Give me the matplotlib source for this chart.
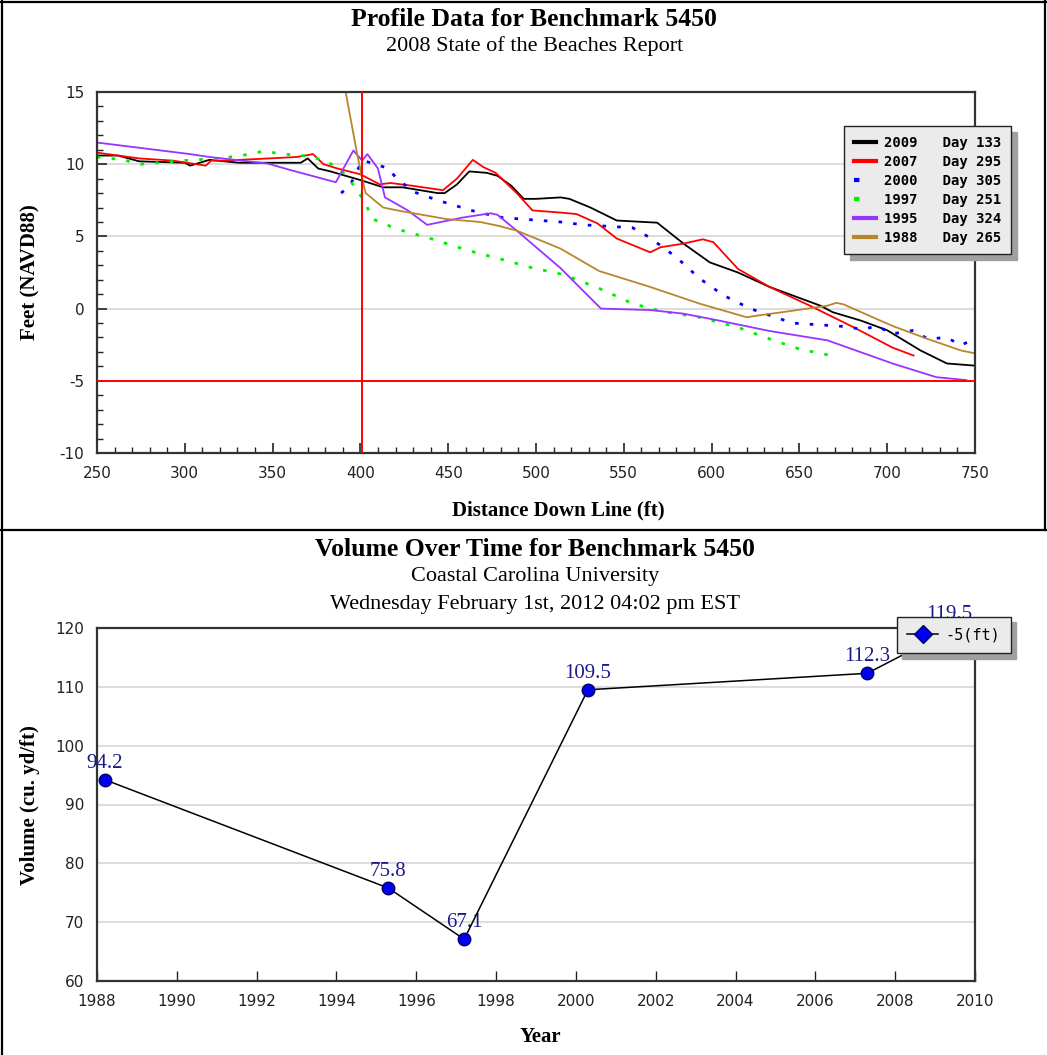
import matplotlib
matplotlib.use("Agg")
import matplotlib.pyplot as plt
from matplotlib.lines import Line2D
from matplotlib.ticker import MultipleLocator

plt.rcParams["axes.unicode_minus"] = False

# profile data (distance down line ft, elevation ft NAVD88)
x2009 = [250, 262, 274, 300, 303, 314, 331, 366, 370, 376, 383, 400, 413, 424, 444, 448, 455, 462, 472,
         478, 486, 493, 500, 514, 519, 531, 546, 569, 584, 599, 615, 633, 662, 669, 685, 700, 719, 734, 750]
y2009 = [10.6, 10.6, 10.2, 10.1, 9.9, 10.3, 10.1, 10.1, 10.4, 9.7, 9.5, 8.9, 8.4, 8.4, 8.0, 8.0, 8.6, 9.5, 9.4,
         9.2, 8.5, 7.6, 7.6, 7.7, 7.6, 7.0, 6.1, 5.95, 4.5, 3.2, 2.5, 1.5, 0.2, -0.25, -0.83, -1.5, -2.9, -3.8, -3.95]

x2007 = [250, 274, 293, 312, 315, 322, 348, 364, 373, 379, 387, 400, 411, 417, 430, 447, 455, 464, 470,
         477, 489, 498, 514, 523, 535, 546, 565, 571, 584, 595, 601, 615, 633, 656, 681, 703, 715]
y2007 = [10.8, 10.4, 10.25, 9.9, 10.25, 10.25, 10.4, 10.5, 10.7, 10.0, 9.7, 9.3, 8.6, 8.7, 8.5, 8.2, 9.0, 10.3, 9.8,
         9.4, 8.0, 6.8, 6.65, 6.55, 5.9, 4.85, 3.9, 4.25, 4.5, 4.8, 4.6, 2.75, 1.5, 0.2, -1.3, -2.7, -3.25]

x2000 = [389, 394, 401, 406, 416, 420, 430, 444, 466, 481, 514, 527, 555, 565, 580, 593, 607, 622, 628,
         646, 677, 686, 694, 703, 715, 723, 734, 742, 746, 750]
y2000 = [8.0, 8.5, 10.25, 10.1, 9.7, 9.1, 8.1, 7.5, 6.7, 6.3, 6.0, 5.8, 5.6, 4.9, 3.55, 2.1, 0.9, 0.0, -0.25,
         -1.0, -1.25, -1.45, -1.2, -1.75, -1.5, -2.1, -2.0, -2.55, -2.3, -2.5]

x1997 = [250, 265, 275, 299, 318, 330, 345, 356, 367, 379, 388, 394, 402, 407, 421, 440, 462, 484, 497,
         514, 519, 536, 555, 572, 593, 615, 633, 650, 668]
y1997 = [10.5, 10.3, 10.0, 10.25, 10.4, 10.55, 10.9, 10.7, 10.6, 10.3, 9.7, 8.9, 7.5, 6.2, 5.5, 4.85, 4.0, 3.3, 2.85,
         2.4, 2.2, 1.4, 0.35, -0.2, -0.6, -1.3, -2.1, -2.8, -3.25]

x1995 = [250, 303, 314, 347, 360, 386, 396, 401, 404, 410, 414, 427, 438, 458, 474, 478, 489, 514, 523,
         537, 565, 584, 603, 633, 666, 703, 728, 745]
y1995 = [11.5, 10.7, 10.5, 10.05, 9.6, 8.75, 10.95, 10.25, 10.7, 9.7, 7.7, 6.8, 5.8, 6.3, 6.6, 6.5, 5.4, 2.8, 1.7,
         0.0, -0.1, -0.35, -0.8, -1.55, -2.2, -3.8, -4.75, -4.95]

x1988 = [384, 391, 398, 401, 403, 413, 421, 449, 468, 478, 489, 514, 536, 565, 593, 620, 628, 646, 666,
         671, 675, 703, 723, 742, 750]
y1988 = [20, 15.4, 10.8, 9.0, 8.0, 7.0, 6.8, 6.2, 6.0, 5.75, 5.4, 4.15, 2.6, 1.5, 0.35, -0.6, -0.45, -0.15, 0.2,
         0.4, 0.3, -1.2, -2.1, -2.9, -3.1]

labels = ["2009   Day 133", "2007   Day 295", "2000   Day 305", "1997   Day 251", "1995   Day 324", "1988   Day 265"]

# volume over time
years = [1988.2, 1995.3, 1997.2, 2000.3, 2007.3, 2009.35]
volume = [94.2, 75.8, 67.1, 109.5, 112.3, 119.5]

W, H = 1047, 1055
fig = plt.figure(figsize=(W / 100, H / 100), dpi=100)
serif = "Liberation Serif"


def fx(px):
    return px / W


def fy(py):
    return 1 - py / H


# panel borders
for seg in [((1.5, 1.5), (0, H)), ((0, W), (1.5, 1.5)), ((1045, 1045), (0, 530)), ((0, W), (530, 530))]:
    fig.add_artist(Line2D([fx(v) for v in seg[0]], [fy(v) for v in seg[1]], color="black", lw=1.6))

# ---------------- profile chart ----------------
ax = fig.add_axes([fx(97), fy(453), fx(975) - fx(97), fy(92) - fy(453)])
ax.set_xlim(250, 750)
ax.set_ylim(-10, 15)
ax.yaxis.set_major_locator(MultipleLocator(5))
ax.yaxis.set_minor_locator(MultipleLocator(1))
ax.xaxis.set_major_locator(MultipleLocator(50))
ax.xaxis.set_minor_locator(MultipleLocator(10))
ax.tick_params(which="both", direction="in", top=False, right=False, labelsize=11, colors="#222222")
ax.tick_params(which="major", length=7, width=1.2, pad=9)
ax.tick_params(which="minor", length=4, width=1.0)
ax.grid(axis="y", which="major", color="#dddddd", lw=1.5)
ax.set_axisbelow(True)
for s in ax.spines.values():
    s.set_color("#333333")
    s.set_linewidth(1.6)

ax.axhline(-5, color="red", lw=1.4, zorder=3)
ax.axvline(401, color="red", lw=1.4, zorder=3)

lw = 1.3
dots = (0, (1.3, 4))
ax.plot(x2009, y2009, color="black", lw=lw, label=labels[0])
ax.plot(x2007, y2007, color="#ff0000", lw=lw, label=labels[1])
ax.plot(x2000, y2000, color="#0000ff", lw=2, ls=dots, label=labels[2])
ax.plot(x1997, y1997, color="#00ee00", lw=2, ls=dots, label=labels[3])
ax.plot(x1995, y1995, color="#9933ff", lw=lw, label=labels[4])
ax.plot(x1988, y1988, color="#b8862b", lw=lw, label=labels[5])

handles, labs = ax.get_legend_handles_labels()
leg = ax.legend(handles, labs, loc="upper left", bbox_to_anchor=(0.843, 0.925), fancybox=False,
                framealpha=1, facecolor="#ebebeb", edgecolor="#222222", handlelength=1.6,
                prop={"family": "DejaVu Sans Mono", "size": 10, "weight": "bold"},
                labelspacing=0.36, borderpad=0.7, handletextpad=0.6,
                shadow={"ox": 4, "oy": -4, "facecolor": "#a0a0a0", "edgecolor": "#a0a0a0", "alpha": 1})
leg.set_zorder(10)
for h in leg.legend_handles:
    h.set_linewidth(3)

fig.text(fx(534), fy(19), "Profile Data for Benchmark 5450", ha="center", va="center",
         family=serif, weight="bold", size=18.5)
fig.text(fx(535), fy(46), "2008 State of the Beaches Report", ha="center", va="center",
         family=serif, size=16)
fig.text(fx(558), fy(510), "Distance Down Line (ft)", ha="center", va="center",
         family=serif, weight="bold", size=15)
fig.text(fx(30), fy(272), "Feet (NAVD88)", ha="center", va="center", rotation=90,
         family=serif, weight="bold", size=15)

# ---------------- volume chart ----------------
bx = fig.add_axes([fx(97), fy(981), fx(975) - fx(97), fy(628) - fy(981)])
bx.set_xlim(1988, 2010)
bx.set_ylim(60, 120)
bx.xaxis.set_major_locator(MultipleLocator(2))
bx.yaxis.set_major_locator(MultipleLocator(10))
bx.tick_params(which="both", direction="in", top=False, right=False, labelsize=11, colors="#222222",
               length=7, width=1.0, pad=9)
bx.tick_params(axis="y", length=0)
bx.grid(axis="y", color="#dddddd", lw=1.5)
bx.set_axisbelow(True)
for s in bx.spines.values():
    s.set_color("#333333")
    s.set_linewidth(1.6)

bx.plot(years, volume, color="black", lw=1.1, marker="o", ms=9, mfc="#0000ee", mec="#000066",
        mew=1.0, label="-5(ft)", zorder=4)
for yr, v in zip(years, volume):
    bx.annotate(f"{v:.1f}", (yr, v), xytext=(0, 12), textcoords="offset points", ha="center",
                va="center", family=serif, size=15, color="#1a1a8a", zorder=3)

lh = [Line2D([0], [0], color="black", lw=1.1, marker="D", ms=9, mfc="#0000ee", mec="#000066")]
leg2 = bx.legend(lh, ["-5(ft)"], loc="upper left", bbox_to_anchor=(0.902, 1.053), fancybox=False,
                 framealpha=1, facecolor="#ebebeb", edgecolor="#222222", handlelength=2.0,
                 prop={"family": "DejaVu Sans Mono", "size": 11}, borderpad=0.7, handletextpad=0.5,
                 shadow={"ox": 4, "oy": -4, "facecolor": "#a0a0a0", "edgecolor": "#a0a0a0", "alpha": 1})
leg2.set_zorder(10)

fig.text(fx(535), fy(549), "Volume Over Time for Benchmark 5450", ha="center", va="center",
         family=serif, weight="bold", size=18.5)
fig.text(fx(535), fy(577), "Coastal Carolina University", ha="center", va="center",
         family=serif, size=16)
fig.text(fx(535), fy(605), "Wednesday February 1st, 2012 04:02 pm EST", ha="center", va="center",
         family=serif, size=16)
fig.text(fx(540), fy(1037), "Year", ha="center", va="center", family=serif, weight="bold", size=15)
fig.text(fx(30), fy(805), "Volume (cu. yd/ft)", ha="center", va="center", rotation=90,
         family=serif, weight="bold", size=15)

fig.savefig("out.png", dpi=100)
